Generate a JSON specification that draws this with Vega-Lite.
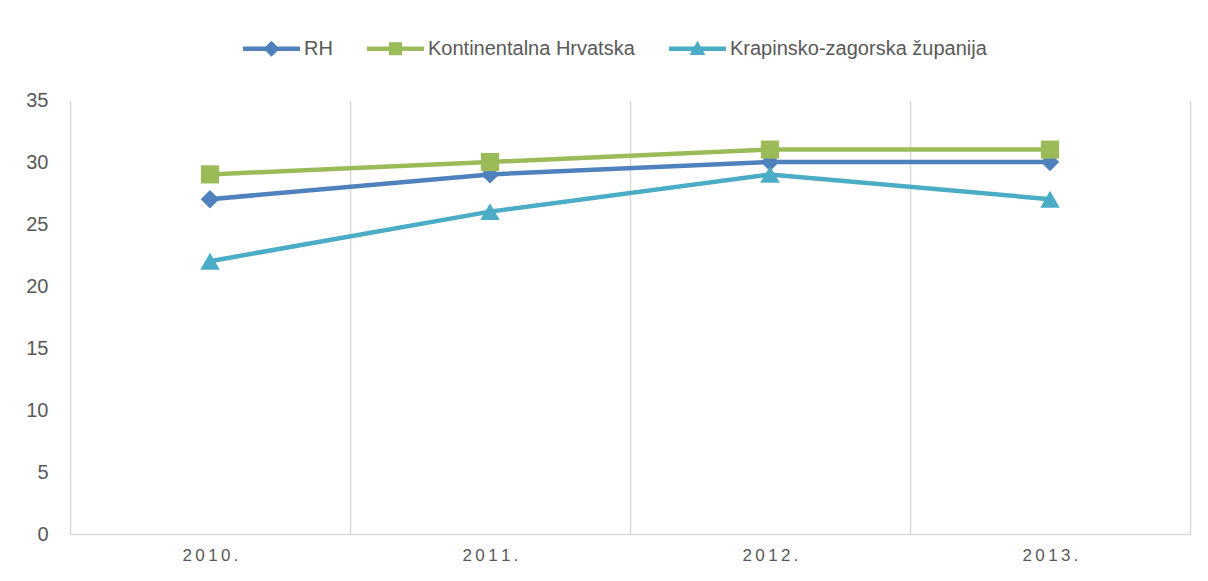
{
  "$schema": "https://vega.github.io/schema/vega-lite/v6.json",
  "autosize": "none",
  "width": 1120,
  "height": 434,
  "padding": {"left": 70, "top": 100, "right": 18, "bottom": 47},
  "background": "white",
  "config": {
    "font": "Liberation Sans",
    "view": {"stroke": null}
  },
  "data": {
    "values": [
      {"year": "2010.", "series": "RH", "value": 27},
      {"year": "2011.", "series": "RH", "value": 29},
      {"year": "2012.", "series": "RH", "value": 30},
      {"year": "2013.", "series": "RH", "value": 30},
      {"year": "2010.", "series": "Kontinentalna Hrvatska", "value": 29},
      {"year": "2011.", "series": "Kontinentalna Hrvatska", "value": 30},
      {"year": "2012.", "series": "Kontinentalna Hrvatska", "value": 31},
      {"year": "2013.", "series": "Kontinentalna Hrvatska", "value": 31},
      {"year": "2010.", "series": "Krapinsko-zagorska županija", "value": 22},
      {"year": "2011.", "series": "Krapinsko-zagorska županija", "value": 26},
      {"year": "2012.", "series": "Krapinsko-zagorska županija", "value": 29},
      {"year": "2013.", "series": "Krapinsko-zagorska županija", "value": 27}
    ]
  },
  "encoding": {
    "x": {
      "field": "year",
      "type": "nominal",
      "sort": null,
      "scale": {"paddingInner": 0, "paddingOuter": 0},
      "axis": {
        "title": null,
        "labelAngle": 0,
        "tickBand": "extent",
        "grid": true,
        "gridColor": "#d9d9d9",
        "gridWidth": 1.5,
        "ticks": false,
        "domain": true,
        "domainColor": "#d9d9d9",
        "domainWidth": 1.5,
        "labelFontSize": 17,
        "labelColor": "#595959",
        "labelPadding": 13,
        "labelExpr": "join(split(datum.label, ''), '\u2009')"
      }
    },
    "y": {
      "field": "value",
      "type": "quantitative",
      "scale": {"domain": [0, 35]},
      "axis": {
        "title": null,
        "values": [0, 5, 10, 15, 20, 25, 30, 35],
        "grid": false,
        "ticks": false,
        "domain": false,
        "labelFontSize": 20,
        "labelColor": "#595959",
        "labelPadding": 22
      }
    },
    "color": {
      "field": "series",
      "type": "nominal",
      "scale": {
        "domain": ["RH", "Kontinentalna Hrvatska", "Krapinsko-zagorska županija"],
        "range": ["#4F81BD", "#9BBB59", "#4BACC6"]
      },
      "legend": {
        "title": null,
        "orient": "none",
        "direction": "horizontal",
        "legendX": 173,
        "legendY": -80,
        "labelFontSize": 20,
        "labelColor": "#595959",
        "labelLimit": 0,
        "labelOffset": 4,
        "columnPadding": 34,
        "symbolSize": 3249,
        "encode": {
          "symbols": {
            "update": {
              "shape": {"signal": "datum.value === 'RH' ? 'M-1,-0.075H1V0.075H-1Z M0,-0.28L0.28,0L0,0.28L-0.28,0Z' : datum.value === 'Kontinentalna Hrvatska' ? 'M-1,-0.075H1V0.075H-1Z M-0.23,-0.23H0.23V0.23H-0.23Z' : 'M-1,-0.075H1V0.075H-1Z M0,-0.28L0.28,0.22L-0.28,0.22Z'"},
              "fill": {"scale": "color", "field": "value"},
              "stroke": {"value": "transparent"},
              "strokeWidth": {"value": 0},
              "opacity": {"value": 1},
              "fillOpacity": {"value": 1}
            }
          }
        }
      }
    }
  },
  "layer": [
    {
      "mark": {"type": "line", "strokeWidth": 4.5}
    },
    {
      "transform": [{"filter": "datum.series === 'RH'"}],
      "mark": {"type": "point", "filled": true, "opacity": 1, "size": 340, "shape": "diamond"}
    },
    {
      "transform": [{"filter": "datum.series === 'Kontinentalna Hrvatska'"}],
      "mark": {"type": "point", "filled": true, "opacity": 1, "size": 330, "shape": "square"}
    },
    {
      "transform": [{"filter": "datum.series === 'Krapinsko-zagorska županija'"}],
      "mark": {"type": "point", "filled": true, "opacity": 1, "size": 380, "shape": "triangle-up"}
    }
  ]
}
